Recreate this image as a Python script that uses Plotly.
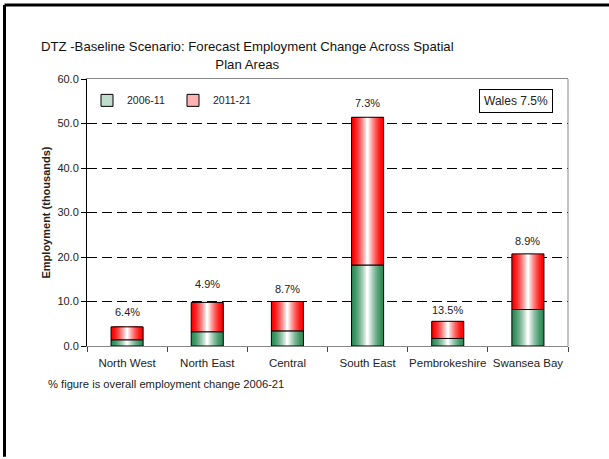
import plotly.graph_objects as go

categories = ["North West", "North East", "Central", "South East", "Pembrokeshire", "Swansea Bay"]
change_2006_11 = [1.4, 3.2, 3.4, 18.2, 1.7, 8.2]
change_2011_21 = [2.9, 6.6, 6.6, 33.2, 3.85, 12.5]
pct_labels = ["6.4%", "4.9%", "8.7%", "7.3%", "13.5%", "8.9%"]
wales_label = "Wales 7.5%"

totals = [a + b for a, b in zip(change_2006_11, change_2011_21)]
label_shift = [15, 18, 13, 14, 11, 13]

GREEN = (46, 139, 87)
RED = (255, 0, 0)
BAR_W = 0.4
STEPS = 22


def mix(c, t):
    return "rgb(%d,%d,%d)" % tuple(round(v + (255 - v) * t) for v in c)


fig = go.Figure()

for name, vals, base, col in [("2006-11", change_2006_11, None, GREEN),
                              ("2011-21", change_2011_21, change_2006_11, RED)]:
    for k in range(STEPS):
        t = (k / (STEPS - 1)) ** 1.5
        fig.add_trace(go.Bar(
            x=categories, y=vals, base=base,
            width=BAR_W * (1 - k / STEPS),
            marker=dict(color=mix(col, t), line=dict(width=0)),
            showlegend=False, hoverinfo="skip",
        ))
    fig.add_trace(go.Bar(
        x=categories, y=vals, base=base, width=BAR_W,
        marker=dict(color="rgba(0,0,0,0)", line=dict(color="black", width=1)),
        showlegend=False, hoverinfo="skip",
    ))

for name, col in [("2006-11", GREEN), ("2011-21", RED)]:
    fig.add_trace(go.Bar(
        x=[categories[0]], y=[None], name=name,
        marker=dict(color=mix(col, 0.7), line=dict(color="black", width=1)),
        showlegend=True,
    ))

for c, tot, lab, sh in zip(categories, totals, pct_labels, label_shift):
    fig.add_annotation(x=c, y=tot, text=lab, showarrow=False, yanchor="middle",
                       yshift=sh, font=dict(size=11, color="#222"))

fig.add_annotation(xref="paper", yref="paper", x=0.892, y=0.916, xanchor="center",
                   yanchor="middle", text=wales_label,
                   showarrow=False, bordercolor="black", borderwidth=1, borderpad=4,
                   bgcolor="white", font=dict(size=12, color="#222"))

fig.add_annotation(xref="paper", yref="paper", x=-0.085, y=-0.142, xanchor="left",
                   yanchor="middle", text="% figure is overall employment change 2006-21",
                   showarrow=False, font=dict(size=11.2, color="#222"))

fig.add_shape(type="line", xref="paper", yref="paper", x0=1, x1=1, y0=0, y1=1,
              line=dict(color="#888", width=1))
fig.add_shape(type="line", xref="paper", yref="paper", x0=-0.1715, x1=1.09, y0=1.277, y1=1.277,
              line=dict(color="black", width=3))
fig.add_shape(type="line", xref="paper", yref="paper", x0=-0.1715, x1=-0.1715, y0=1.277, y1=-0.415,
              line=dict(color="black", width=3))

fig.update_layout(
    width=609, height=459,
    margin=dict(l=87, r=41, t=79, b=113, autoexpand=False),
    paper_bgcolor="white", plot_bgcolor="white",
    barmode="overlay",
    font=dict(family="Liberation Sans, Arial, sans-serif", color="#222"),
    title=dict(text="DTZ -Baseline Scenario: Forecast Employment Change Across Spatial<br>Plan Areas",
               x=0.406, xanchor="center", y=0.888, yanchor="middle",
               font=dict(size=13.2, color="#111")),
    legend=dict(orientation="h", x=0.0, y=0.92, xanchor="left", yanchor="middle",
                font=dict(size=10.5), bgcolor="rgba(0,0,0,0)", entrywidth=41,
                itemclick=False),
    xaxis=dict(type="category", showline=True, linecolor="#888", linewidth=1, mirror=True,
               ticks="outside", tickson="boundaries", ticklen=5, tickcolor="#444",
               tickangle=0, automargin=False, ticklabelstandoff=6,
               tickfont=dict(size=11.5), showgrid=False, fixedrange=True),
    yaxis=dict(range=[0, 60], dtick=10, tickformat=".1f", showline=True, linecolor="black",
               linewidth=1, ticks="outside", ticklen=5, tickcolor="black", automargin=False,
               tickfont=dict(size=11), showgrid=True, gridcolor="black", griddash="10px,5px",
               gridwidth=1, zeroline=False,
               title=dict(text="<b>Employment (thousands)</b>", font=dict(size=11), standoff=4)),
)

fig.write_html("out.html", config={"displayModeBar": False},
               post_script="document.body.style.margin='0';document.body.style.overflow='hidden';")
